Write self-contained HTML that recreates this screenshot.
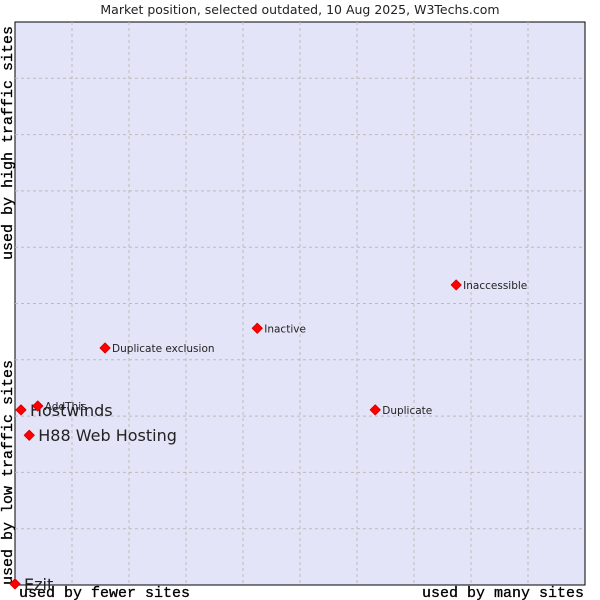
<!DOCTYPE html>
<html><head><meta charset="utf-8"><style>
body{margin:0;background:#fff;width:600px;height:600px;overflow:hidden}
svg{display:block}
</style></head><body>
<svg id="c" width="600" height="600" font-family="'DejaVu Sans', 'Liberation Sans', sans-serif">
<text x="300" y="14" text-anchor="middle" font-size="12.5" fill="#222">Market position, selected outdated, 10 Aug 2025, W3Techs.com</text>
<rect x="15" y="22" width="570" height="563" fill="#e3e4f8" stroke="#000" stroke-width="1"/>
<g id="grid"></g>
<text x="19" y="597" font-family="'Liberation Mono',monospace" font-size="15" fill="#000" stroke="#000" stroke-width="0.3">used by fewer sites</text>
<text x="584" y="597" text-anchor="end" font-family="'Liberation Mono',monospace" font-size="15" fill="#000" stroke="#000" stroke-width="0.3">used by many sites</text>
<text transform="translate(12,585) rotate(-90)" font-family="'Liberation Mono',monospace" font-size="15" fill="#000" stroke="#000" stroke-width="0.3">used by low traffic sites</text>
<text transform="translate(12,260) rotate(-90)" font-family="'Liberation Mono',monospace" font-size="15" fill="#000" stroke="#000" stroke-width="0.3">used by high traffic sites</text>
<g id="pts"></g>
</svg>
<script>
const names = ["Ezit","Hostwinds","AddThis","H88 Web Hosting","Duplicate exclusion","Inactive","Duplicate","Inaccessible"];
const xVals = [0,1.05,4.0,2.5,15.8,42.5,63.2,77.4];
const yVals = [0.2,31.1,31.8,26.6,42.1,45.6,31.1,53.3];
const bigLabel = [true,true,false,true,false,false,false,false];
const NS="http://www.w3.org/2000/svg";
const L=15,T=22,W=570,H=563;
const sx=v=>L+v/100*W, sy=v=>T+H-v/100*H;
const grid=document.getElementById('grid');
for(let i=1;i<10;i++){
  const v=document.createElementNS(NS,'line');
  v.setAttribute('x1',sx(i*10));v.setAttribute('x2',sx(i*10));v.setAttribute('y1',T);v.setAttribute('y2',T+H);
  v.setAttribute('stroke','#bbb');v.setAttribute('stroke-dasharray','3,3');
  
  
  grid.appendChild(v);
  const h=document.createElementNS(NS,'line');
  h.setAttribute('y1',sy(i*10));h.setAttribute('y2',sy(i*10));h.setAttribute('x1',L);h.setAttribute('x2',L+W);
  h.setAttribute('stroke','#bbb');h.setAttribute('stroke-dasharray','3,3');
  
  
  grid.appendChild(h);
}
const pts=document.getElementById('pts');
names.forEach((n,i)=>{
  const x=sx(xVals[i]),y=sy(yVals[i]);
  const p=document.createElementNS(NS,'path');
  p.setAttribute('d',`M${x},${y-5}L${x+5},${y}L${x},${y+5}L${x-5},${y}Z`);
  p.setAttribute('fill','#f00');p.setAttribute('stroke','#d00');p.setAttribute('stroke-width','1');p.setAttribute('stroke-linejoin','round');
  
  
  pts.appendChild(p);
  const t=document.createElementNS(NS,'text');
  t.setAttribute('x',x+(bigLabel[i]?9:7));t.setAttribute('y',y+(bigLabel[i]?6:4));
  t.setAttribute('font-size',bigLabel[i]?'16':'10.5');t.setAttribute('fill','#222');
  t.textContent=n;
  
  
  pts.appendChild(t);
});
</script>
</body></html>
